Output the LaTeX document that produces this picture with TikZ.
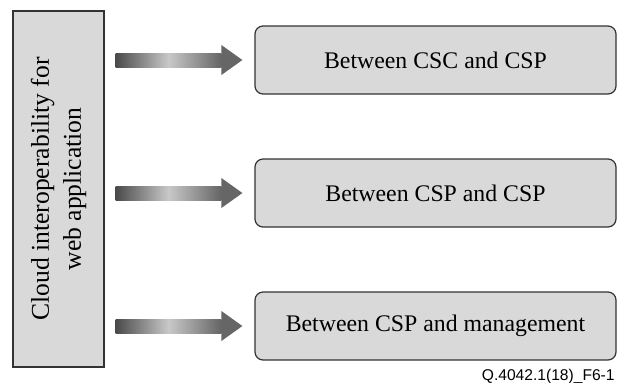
\documentclass[tikz,border=0pt]{standalone}
\usepackage{fontspec}
\setmainfont{Liberation Serif}
\newfontfamily\tagfont{Liberation Sans}
\usetikzlibrary{positioning, calc}

\definecolor{boxgray}{HTML}{D9D9D9}
\definecolor{linegray}{HTML}{333333}
\definecolor{shaftdark}{HTML}{4A4A4A}
\definecolor{shaftlight}{HTML}{C8C8C8}
\definecolor{headgray}{HTML}{666666}

\begin{document}
\begin{tikzpicture}[x=0.5pt, y=-0.5pt,
    boxtext/.style={font=\fontsize{11.9}{15}\selectfont},
    levelbox/.style={boxtext, draw=linegray, fill=boxgray, line width=0.6pt,
      rounded corners=4pt, minimum width=180.5pt, minimum height=34pt},
    cloudbox/.style={draw=linegray, fill=boxgray, line width=0.6pt,
      minimum width=45.5pt, minimum height=178pt}]
  \useasboundingbox (0,0) rectangle (617,382);

  % left block
  \node[cloudbox] (cloud) at (58.5,189) {};
  \node[rotate=90, align=center, inner sep=0, font=\fontsize{12.8}{16}\selectfont]
    (cloudtext) at (cloud.center) {Cloud interoperability for\\web application};

  % right blocks
  \node[levelbox] (csc) at (435.5,60) {Between CSC and CSP};
  \node[levelbox] (csp) at (435.5,193) {Between CSP and CSP};
  \node[levelbox] (mgmt) at (435.5,326) {Between CSP and management};

  % arrows
  \foreach \target in {csc, csp, mgmt} {
    \coordinate (tail) at ([xshift=5.5pt]cloud.east |- \target.west);
    \coordinate (tip) at ([xshift=-6pt]\target.west);
    \shade[left color=shaftdark, right color=shaftdark!85!white, middle color=shaftlight]
      ([yshift=3.5pt]tail) rectangle ([xshift=-10.5pt, yshift=-3.5pt]tip);
    \fill[headgray] (tip) -- ([xshift=-10.5pt, yshift=7.5pt]tip)
      -- ([xshift=-10.5pt, yshift=-7.5pt]tip) -- cycle;
  }

  \node[anchor=base east, inner sep=0, font=\tagfont\fontsize{7.8}{9}\selectfont] (tag)
    at (615,380) {Q.4042.1(18)\_F6-1};
\end{tikzpicture}
\end{document}
